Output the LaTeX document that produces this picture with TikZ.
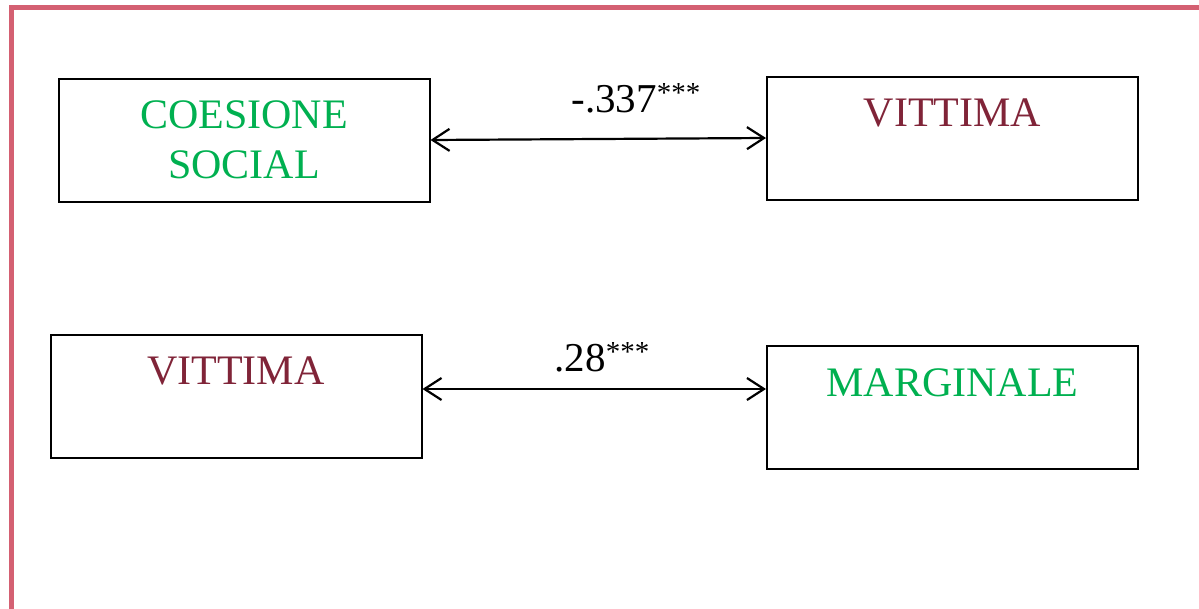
\documentclass[tikz,border=0pt]{standalone}
\usepackage{fontspec}
\setmainfont{Liberation Serif}
\usetikzlibrary{arrows.meta}

\definecolor{framered}{RGB}{212,96,114}
\definecolor{vgreen}{RGB}{0,176,80}
\definecolor{vred}{RGB}{128,36,56}

\newcommand{\stars}{\raisebox{0.5ex}{\fontsize{29}{29}\selectfont ***}}

\begin{document}
\begin{tikzpicture}[
    x=1pt, y=-1pt,
    frame/.style={framered,line width=5pt},
    box/.style={draw,line width=2pt,minimum width=371pt,minimum height=123pt,
        align=center,font=\fontsize{42}{50}\selectfont},
    corr/.style={line width=2.2pt,{Straight Barb[length=17pt,width=22pt]}-{Straight Barb[length=17pt,width=22pt]}},
    coef/.style={font=\fontsize{41}{41}\selectfont,anchor=base}
]

\useasboundingbox (0,0) rectangle (1199,608);

% Frame (runs off the page on the right and at the bottom)
\draw[frame] (11,620) -- (11,7) -- (1210,7);

% =========================
% First pair
% =========================
\node[box,text=vgreen] (cs) at (244,140) {COESIONE\\SOCIAL};
\node[box,text=vred] (v1) at (952.5,138) {VITTIMA\\\phantom{V}};

\draw[corr] (cs.east) -- (v1.west);
\node[coef] (c1) at (636,112) {-.337\stars};

% =========================
% Second pair
% =========================
\node[box,text=vred] (v2) at (236,396) {VITTIMA\\\phantom{V}};
\node[box,text=vgreen] (mg) at (952.5,407.5) {MARGINALE\\\phantom{V}};

% arrow height
\coordinate (r2) at (0,389);
\draw[corr] (v2.east |- r2) -- (mg.west |- r2);
\node[coef] (c2) at (602,371) {.28\stars};

\end{tikzpicture}
\end{document}
